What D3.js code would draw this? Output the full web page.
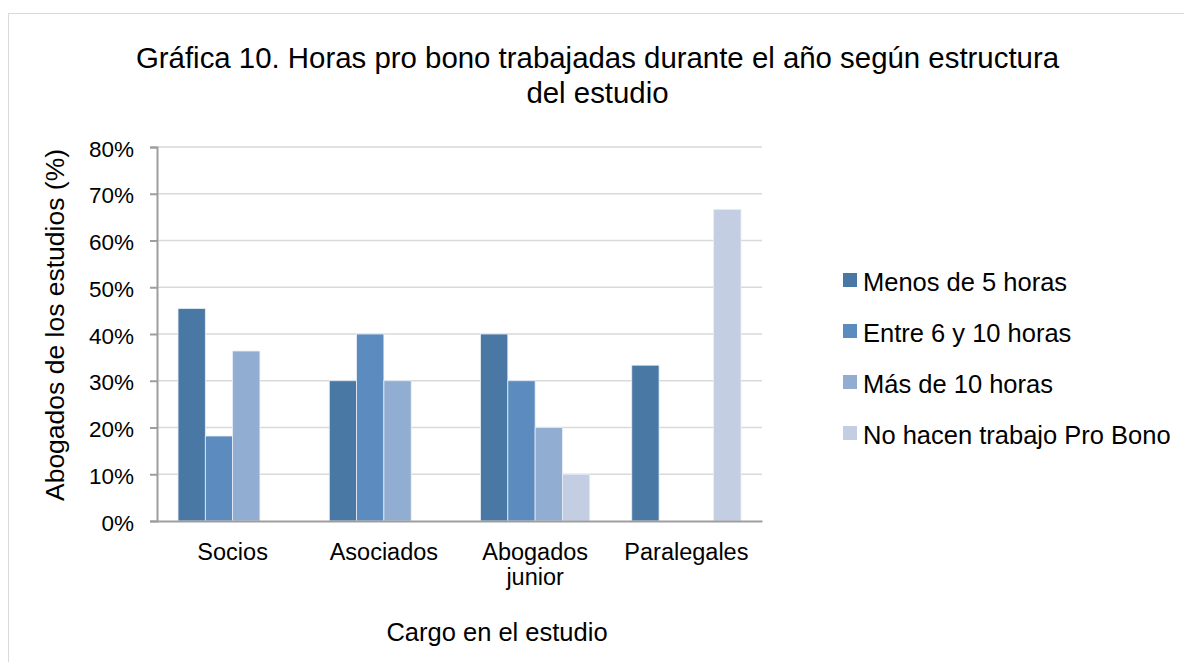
<!DOCTYPE html>
<html>
<head>
<meta charset="utf-8">
<script src="https://cdn.jsdelivr.net/npm/d3@7"></script>
<style>
  body { margin: 0; background: #fff; }
  svg { font-family: "Liberation Sans", Arial, sans-serif; }
</style>
</head>
<body>
<svg id="chart" width="1184" height="662"></svg>
<script>
// data
var categories = [["Socios"], ["Asociados"], ["Abogados", "junior"], ["Paralegales"]];
var seriesNames = ["Menos de 5 horas", "Entre 6 y 10 horas", "Más de 10 horas", "No hacen trabajo Pro Bono"];
var menos5 = [45.45, 30, 40, 33.33];
var entre6y10 = [18.18, 40, 30, 0];
var mas10 = [36.36, 30, 20, 0];
var noHacen = [0, 0, 10, 66.67];
var yTicks = [0, 10, 20, 30, 40, 50, 60, 70, 80];
var colors = ["#4a78a5", "#5b8bbf", "#91aed2", "#c3cee3"];

var series = [menos5, entre6y10, mas10, noHacen];
var font = "Liberation Sans, Arial, sans-serif";

var svg = d3.select("#chart");

// outer frame
svg.append("rect")
    .attr("x", 8.5).attr("y", 13.5)
    .attr("width", 1200).attr("height", 700)
    .attr("fill", "#fff")
    .attr("stroke", "#d9d9d9")
    .attr("stroke-width", 1);

var margin = { top: 147, left: 157 };
var width = 605, height = 374;

var g = svg.append("g")
    .attr("transform", "translate(" + margin.left + "," + margin.top + ")");

var x = d3.scaleBand()
    .domain(d3.range(categories.length))
    .range([0, width])
    .paddingInner(0).paddingOuter(0);

var gap = 0.278;
var x1 = d3.scaleBand()
    .domain(d3.range(series.length))
    .range([x.bandwidth() * gap / 2, x.bandwidth() * (1 - gap / 2)]);

var y = d3.scaleLinear().domain([0, 80]).range([height, 0]);

// grid
g.append("g")
    .selectAll("line")
    .data(yTicks.slice(1))
    .join("line")
    .attr("x1", 0).attr("x2", width)
    .attr("y1", function(d) { return y(d); })
    .attr("y2", function(d) { return y(d); })
    .attr("stroke", "#d9d9d9")
    .attr("stroke-width", 1.5);

// bars
var groups = g.selectAll("g.cat")
    .data(categories)
    .join("g")
    .attr("class", "cat")
    .attr("transform", function(d, i) { return "translate(" + x(i) + ",0)"; });

groups.selectAll("rect")
    .data(function(d, i) {
        return series.map(function(s, j) { return { s: j, v: s[i] }; });
    })
    .join("rect")
    .filter(function(d) { return d.v > 0; })
    .attr("x", function(d) { return x1(d.s); })
    .attr("width", x1.bandwidth())
    .attr("y", function(d) { return y(d.v); })
    .attr("height", function(d) { return height - y(d.v); })
    .attr("fill", function(d) { return colors[d.s]; })
    .attr("stroke", "#e8eef6")
    .attr("stroke-width", 0.8);

// y axis
var yAxis = g.append("g")
    .call(d3.axisLeft(y).tickValues(yTicks).tickSize(7).tickPadding(16)
        .tickFormat(function(d) { return d + "%"; }));
yAxis.select(".domain").attr("stroke", "#9e9e9e").attr("stroke-width", 2);
yAxis.selectAll(".tick line").attr("stroke", "#9e9e9e").attr("stroke-width", 2);
yAxis.selectAll(".tick text")
    .attr("font-size", 22.5)
    .attr("fill", "#000")
    .attr("dy", "0.4em")
    .attr("font-family", font);

// x axis
var xAxis = g.append("g")
    .attr("transform", "translate(0," + height + ")")
    .call(d3.axisBottom(x).tickSize(0).tickFormat(""));
xAxis.select(".domain").attr("stroke", "#9e9e9e").attr("stroke-width", 2);

xAxis.selectAll(".tick").each(function(d) {
    var t = d3.select(this).append("text")
        .attr("fill", "#000")
        .attr("font-size", 23.5)
        .attr("text-anchor", "middle")
        .attr("font-family", font);
    categories[d].forEach(function(line, k) {
        t.append("tspan").attr("x", 0).attr("y", 39 + k * 25).text(line);
    });
});

// titles
var title = svg.append("text")
    .attr("text-anchor", "middle")
    .attr("font-size", 29.4)
    .attr("fill", "#000");
title.append("tspan").attr("x", 597.5).attr("y", 68)
    .text("Gráfica 10. Horas pro bono trabajadas durante el año según estructura");
title.append("tspan").attr("x", 597.5).attr("y", 103).text("del estudio");

svg.append("text")
    .attr("x", 497).attr("y", 641)
    .attr("text-anchor", "middle")
    .attr("font-size", 25.5)
    .attr("fill", "#000")
    .text("Cargo en el estudio");

svg.append("text")
    .attr("transform", "translate(64,325) rotate(-90)")
    .attr("text-anchor", "middle")
    .attr("font-size", 26.5)
    .attr("fill", "#000")
    .text("Abogados de los estudios (%)");

// legend
var legend = svg.append("g")
    .selectAll("g")
    .data(seriesNames)
    .join("g")
    .attr("transform", function(d, i) { return "translate(843," + (280 + i * 51) + ")"; });

legend.append("rect")
    .attr("x", 0).attr("y", -7)
    .attr("width", 14).attr("height", 14)
    .attr("fill", function(d, i) { return colors[i]; });

legend.append("text")
    .attr("x", 20).attr("y", 11)
    .attr("font-size", 25.5)
    .attr("fill", "#000")
    .text(function(d) { return d; });
</script>
</body>
</html>
